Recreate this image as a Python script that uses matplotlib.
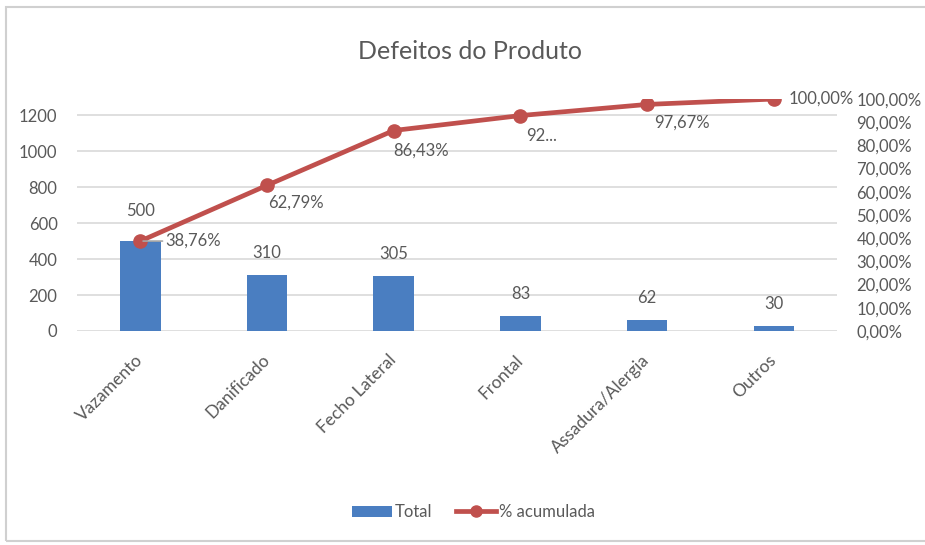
import matplotlib
matplotlib.use("Agg")
import matplotlib.pyplot as plt
from matplotlib.patches import Rectangle, Patch
from matplotlib.lines import Line2D

categories = ["Vazamento", "Danificado", "Fecho Lateral", "Frontal", "Assadura/Alergia", "Outros"]
totals = [500, 310, 305, 83, 62, 30]
cum_pct = [38.76, 62.79, 86.43, 92.87, 97.67, 100.00]
pct_labels = ["38,76%", "62,79%", "86,43%", "92...", "97,67%", "100,00%"]
left_ticks = [0, 200, 400, 600, 800, 1000, 1200]
right_ticks = [0, 10, 20, 30, 40, 50, 60, 70, 80, 90, 100]
right_tick_labels = ["0,00%", "10,00%", "20,00%", "30,00%", "40,00%", "50,00%",
                     "60,00%", "70,00%", "80,00%", "90,00%", "100,00%"]

plt.rcParams['font.family'] = ['Lato', 'DejaVu Sans']
txt = "#595959"
bar_c = "#4A7EC1"
line_c = "#C0504D"

fig = plt.figure(figsize=(9.25, 5.45), dpi=100)
ax = fig.add_axes([0.0832, 0.3927, 0.8218, 0.4256])
x = list(range(len(categories)))
ax.bar(x, totals, width=0.32, color=bar_c, zorder=2)
ax.set_xlim(-0.5, len(categories) - 0.5)
ax.set_ylim(0, sum(totals))
ax.set_yticks(left_ticks)
ax.set_yticklabels([str(t) for t in left_ticks], fontsize=12, color=txt)
ax.yaxis.grid(True, color="#D9D9D9", linewidth=1.2)
ax.set_axisbelow(True)
for s in ax.spines.values():
    s.set_visible(False)
ax.tick_params(axis='y', length=0, pad=14)
ax.tick_params(axis='x', length=0, pad=19)
ax.set_xticks(x)
ax.set_xticklabels(categories, rotation=45, ha='right', va='center', rotation_mode='anchor',
                   fontsize=12.5, color=txt)
bar_off = [16, 10, 10, 10, 10, 10]
for xi, v, off in zip(x, totals, bar_off):
    ax.annotate(str(v), (xi, v), xytext=(0, off), textcoords='offset points',
                ha='center', va='bottom', fontsize=12, color=txt)

ax2 = ax.twinx()
ax2.set_ylim(0, 100)
ax2.plot(x, cum_pct, color=line_c, linewidth=3.4, marker='o', markersize=9.5, zorder=3)
ax2.set_yticks(right_ticks)
ax2.set_yticklabels(right_tick_labels, fontsize=12, color=txt)
ax2.tick_params(axis='y', length=0, pad=14)
for s in ax2.spines.values():
    s.set_visible(False)
offsets = [(18, 0, 'left', 'center'), (1, -7, 'left', 'top'), (0, -9, 'left', 'top'),
           (4, -9, 'left', 'top'), (5, -7, 'left', 'top'), (11, 0, 'left', 'center')]
for i, (xi, v, lab, (dx, dy, ha, va)) in enumerate(zip(x, cum_pct, pct_labels, offsets)):
    kw = {}
    if i == 0:
        kw['arrowprops'] = dict(arrowstyle='-', color='#A6A6A6', lw=1.2, shrinkA=0, shrinkB=2)
    ax2.annotate(lab, (xi, v), xytext=(dx, dy), textcoords='offset points',
                 ha=ha, va=va, fontsize=12, color=txt, **kw)

fig.text(0.508, 0.905, "Defeitos do Produto", ha='center', va='center', fontsize=18, color=txt)

handles = [Patch(facecolor=bar_c, edgecolor='none'),
           Line2D([0], [0], color=line_c, linewidth=3.4, marker='o', markersize=8)]
fig.legend(handles, ["Total", "% acumulada"], loc='center', bbox_to_anchor=(0.512, 0.06),
           ncol=2, frameon=False, fontsize=12, labelcolor=txt, handlelength=2.4,
           columnspacing=1.4, handletextpad=0.2)

fig.add_artist(Rectangle((0.006, 0.008), 1.2, 0.98, transform=fig.transFigure,
                         fill=False, edgecolor="#D0D0D0", linewidth=1.5))
fig.savefig("out.png", dpi=100, facecolor='white')
